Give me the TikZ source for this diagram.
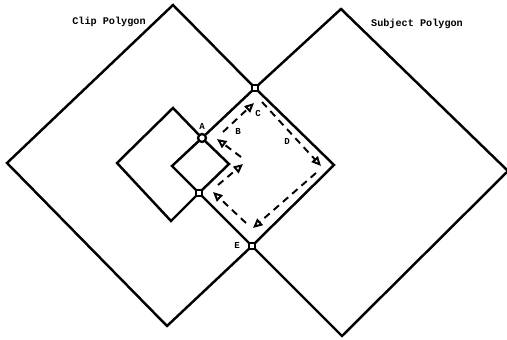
\documentclass[tikz,border=0pt]{standalone}
\usepackage{fontspec}
\newfontfamily\typew{Liberation Mono}
\usepackage{tikz}
\usetikzlibrary{arrows.meta}
\tikzset{
  poly/.style  ={line width=1.4pt,line join=miter},
  trace/.style ={line width=1.1pt,dash pattern=on 4pt off 3pt,
                 -{Triangle[open,length=1.9mm,width=1.7mm]}},
  sq/.style    ={draw,line width=0.8pt,fill=white,minimum size=1.2mm,inner sep=0pt},
  ring/.style  ={draw,circle,line width=1.3pt,fill=white,minimum size=1.6mm,inner sep=0pt},
  ttl/.style   ={font=\typew\bfseries\fontsize{5.8}{7}\selectfont},
  lbl/.style   ={font=\typew\bfseries\fontsize{5.2}{6}\selectfont},
}
\begin{document}
\begin{tikzpicture}[x=0.02cm,y=-0.02cm]
  \useasboundingbox (0,0) rectangle (507,340);
  % clip polygon, outer and hole
  \coordinate (ct) at (173,5);   \coordinate (cr) at (334,165);
  \coordinate (cb) at (167,326); \coordinate (cl) at (7,163);
  \coordinate (ht) at (173,108); \coordinate (hr) at (229,164);
  \coordinate (hb) at (171,221); \coordinate (hl) at (117,163);
  % subject polygon
  \coordinate (st) at (341,9);   \coordinate (sr) at (508,171);
  \coordinate (sb) at (342,336); \coordinate (sl) at (172,166);
  % intersections
  \coordinate (pA) at (202,138); \coordinate (pC) at (255,88);
  \coordinate (pE) at (252,246); \coordinate (pL) at (199,193);

  \draw[poly] (ct) -- (pC) -- (cr) -- (pE) -- (cb) -- (cl) -- cycle;
  \draw[poly] (ht) -- (pA) -- (hr) -- (pL) -- (hb) -- (hl) -- cycle;
  \draw[poly] (st) -- (pC) -- (pA) -- (sl) -- (pL) -- (pE) -- (sb) -- (sr) -- cycle;

  % traversal of the clipped region
  \coordinate (t1) at (218,185); \coordinate (t2) at (243,164);
  \coordinate (t3) at (241,157); \coordinate (t4) at (217,139);
  \coordinate (t5) at (223,132); \coordinate (t6) at (254,103);
  \coordinate (t7) at (262,102); \coordinate (t8) at (321,166);
  \coordinate (t9) at (316,173); \coordinate (t10) at (253,228);
  \coordinate (t11) at (246,223); \coordinate (t12) at (213,192);
  \draw[trace] (t1) -- (t2);
  \draw[trace] (t3) -- (t4);
  \draw[trace] (t5) -- (t6);
  \draw[trace] (t7) -- (t8);
  \draw[trace] (t9) -- (t10);
  \draw[trace] (t11) -- (t12);

  \node[ring] (mA) at (pA) {};
  \node[sq] (mC) at (pC) {};
  \node[sq] (mL) at (pL) {};
  \node[sq] (mE) at (pE) {};

  \node[lbl] (lA) at (202,126) {A};
  \node[lbl] (lB) at (238,131) {B};
  \node[lbl] (lC) at (258,113) {C};
  \node[lbl] (lD) at (287,141) {D};
  \node[lbl] (lE) at (237,245) {E};
  \node[ttl] (tc) at (109,22) {Clip Polygon};
  \node[ttl] (ts) at (417,24) {Subject Polygon};
\end{tikzpicture}
\end{document}
